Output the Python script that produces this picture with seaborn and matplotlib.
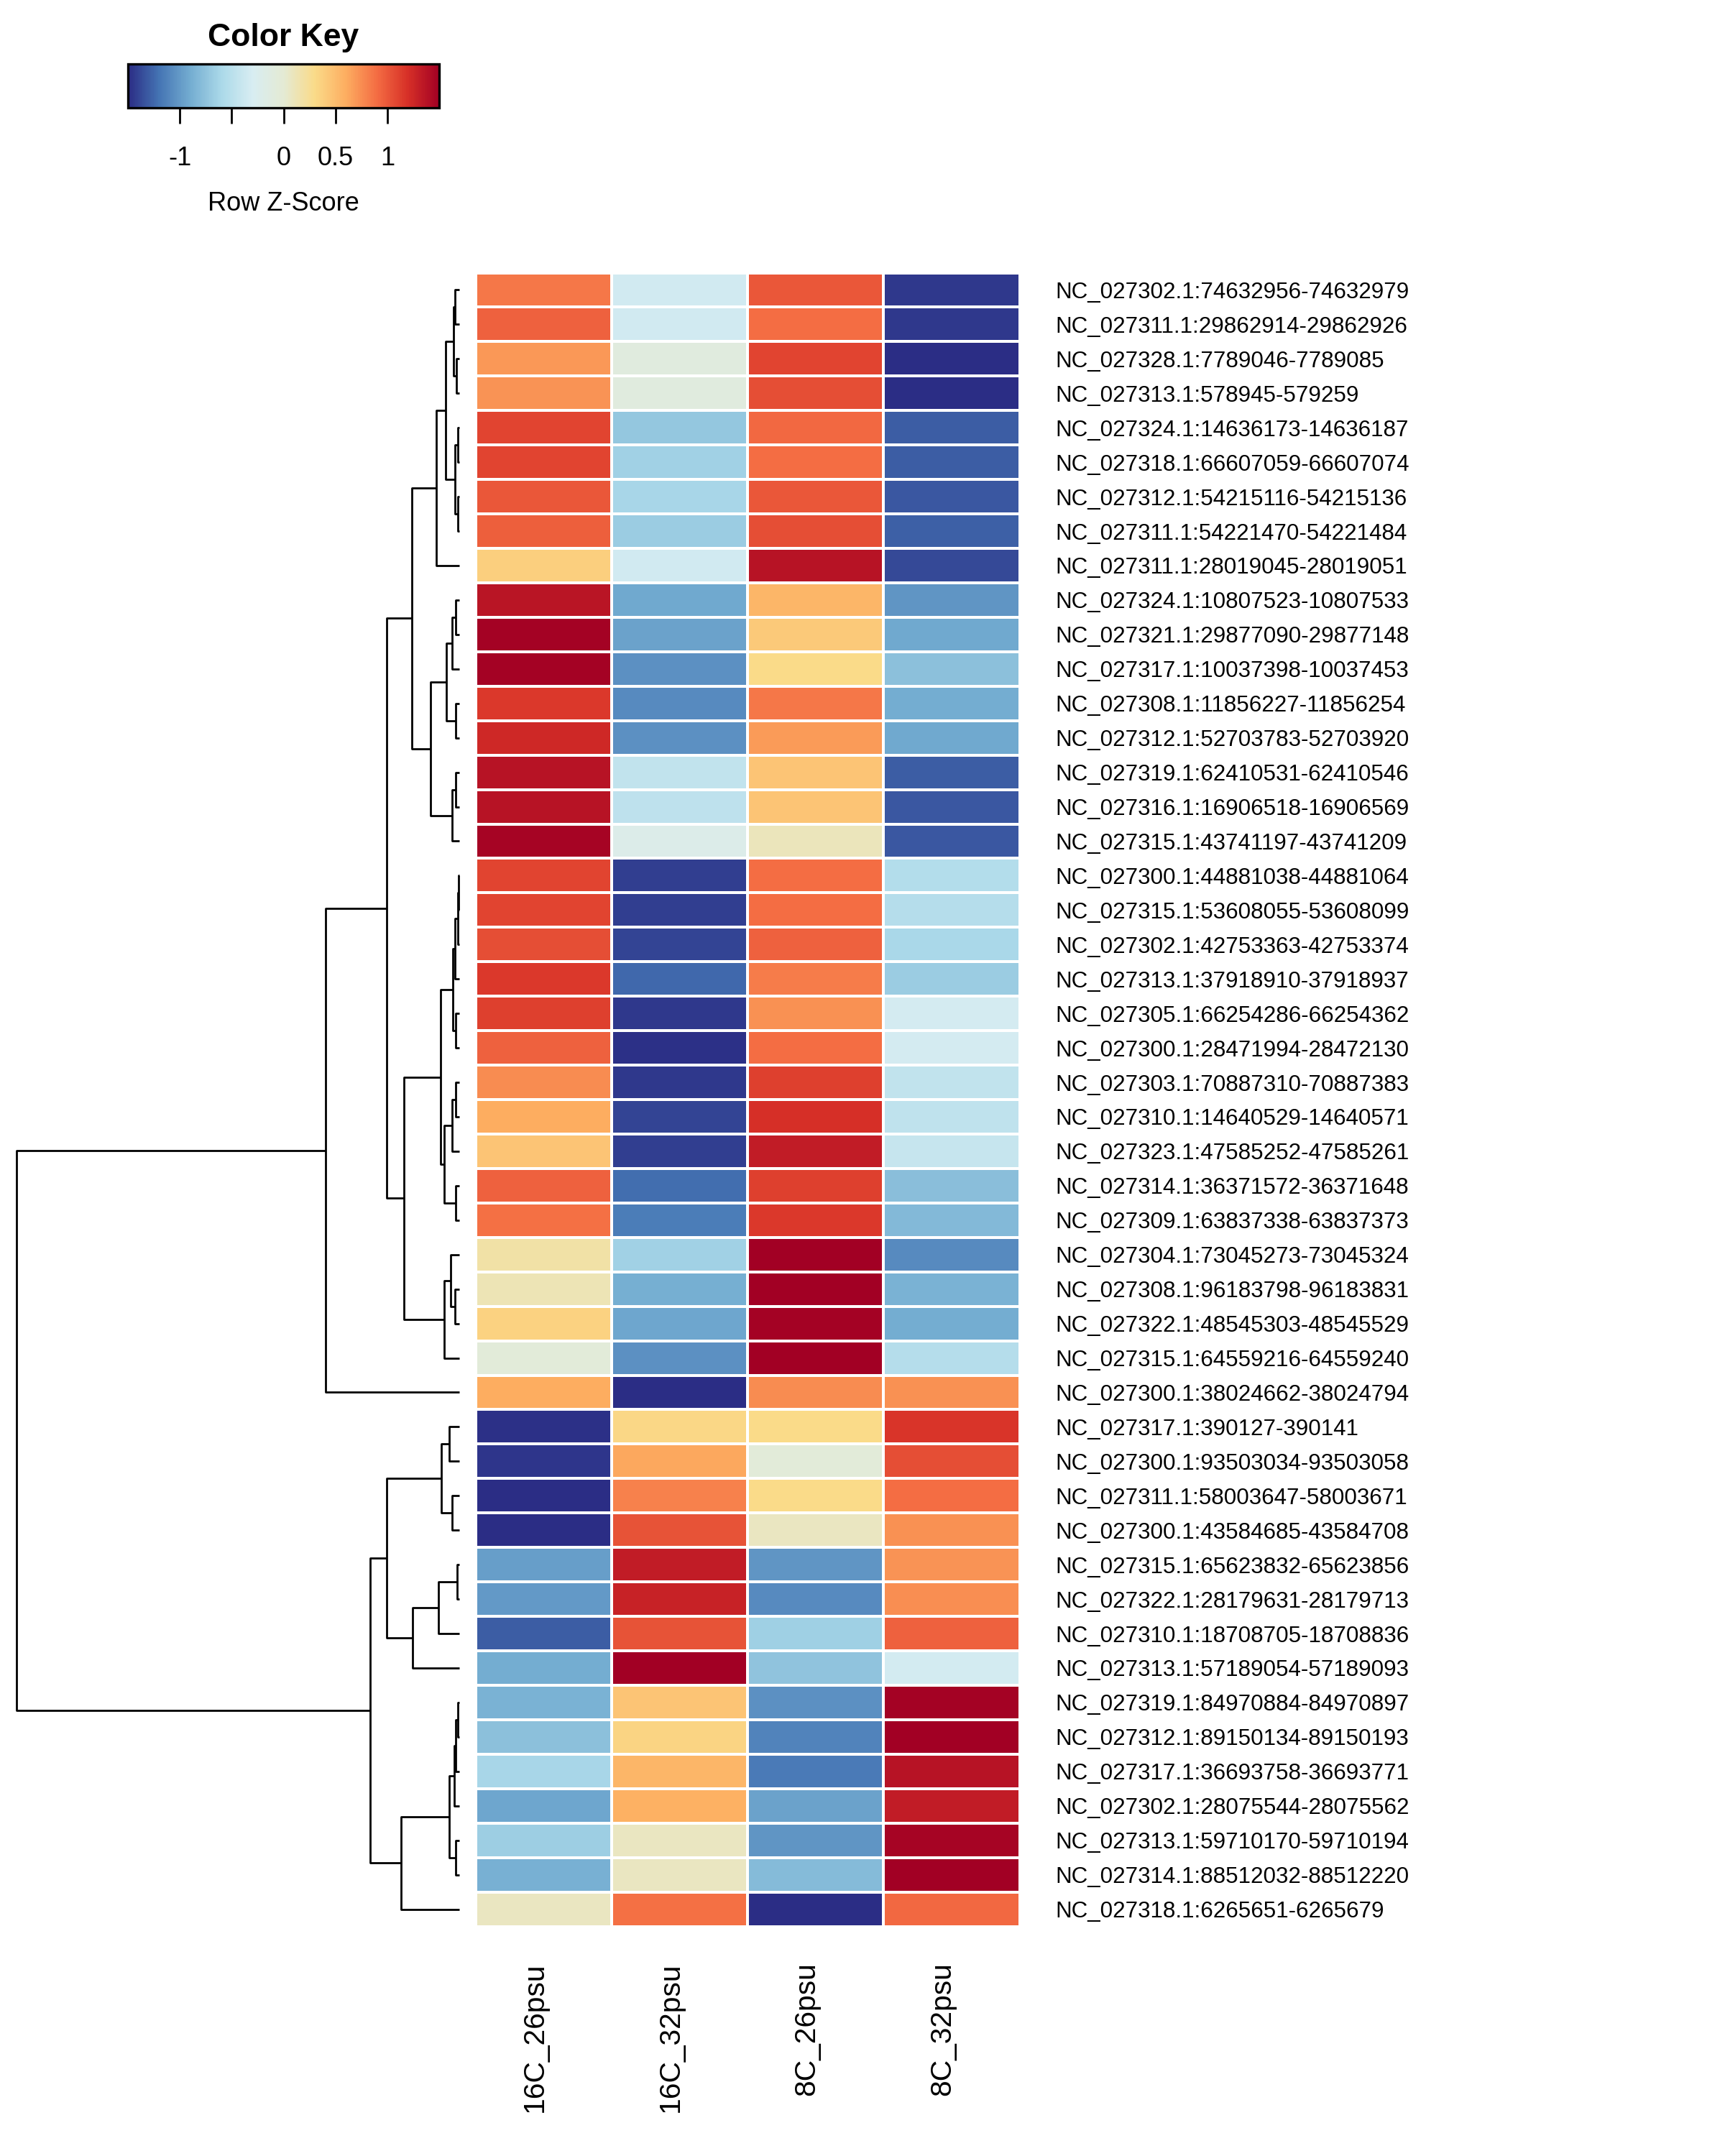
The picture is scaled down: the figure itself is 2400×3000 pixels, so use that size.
import seaborn as sns
import matplotlib.pyplot as plt
import matplotlib.transforms as mtransforms
from matplotlib.colors import LinearSegmentedColormap
import numpy as np
import pandas as pd

# 字体：与 Arial 等宽的 Liberation Sans，文字用纯黑
sns.set_theme(style="white")
plt.rcParams['font.family'] = ['Liberation Sans', 'DejaVu Sans']
plt.rcParams['text.color'] = 'black'
plt.rcParams['axes.labelcolor'] = 'black'
plt.rcParams['xtick.color'] = 'black'
plt.rcParams['ytick.color'] = 'black'

# ---- 数据（按图中行顺序，行 Z-score 从颜色估读）----
row_labels = [
    "NC_027302.1:74632956-74632979", "NC_027311.1:29862914-29862926",
    "NC_027328.1:7789046-7789085", "NC_027313.1:578945-579259",
    "NC_027324.1:14636173-14636187", "NC_027318.1:66607059-66607074",
    "NC_027312.1:54215116-54215136", "NC_027311.1:54221470-54221484",
    "NC_027311.1:28019045-28019051", "NC_027324.1:10807523-10807533",
    "NC_027321.1:29877090-29877148", "NC_027317.1:10037398-10037453",
    "NC_027308.1:11856227-11856254", "NC_027312.1:52703783-52703920",
    "NC_027319.1:62410531-62410546", "NC_027316.1:16906518-16906569",
    "NC_027315.1:43741197-43741209", "NC_027300.1:44881038-44881064",
    "NC_027315.1:53608055-53608099", "NC_027302.1:42753363-42753374",
    "NC_027313.1:37918910-37918937", "NC_027305.1:66254286-66254362",
    "NC_027300.1:28471994-28472130", "NC_027303.1:70887310-70887383",
    "NC_027310.1:14640529-14640571", "NC_027323.1:47585252-47585261",
    "NC_027314.1:36371572-36371648", "NC_027309.1:63837338-63837373",
    "NC_027304.1:73045273-73045324", "NC_027308.1:96183798-96183831",
    "NC_027322.1:48545303-48545529", "NC_027315.1:64559216-64559240",
    "NC_027300.1:38024662-38024794", "NC_027317.1:390127-390141",
    "NC_027300.1:93503034-93503058", "NC_027311.1:58003647-58003671",
    "NC_027300.1:43584685-43584708", "NC_027315.1:65623832-65623856",
    "NC_027322.1:28179631-28179713", "NC_027310.1:18708705-18708836",
    "NC_027313.1:57189054-57189093", "NC_027319.1:84970884-84970897",
    "NC_027312.1:89150134-89150193", "NC_027317.1:36693758-36693771",
    "NC_027302.1:28075544-28075562", "NC_027313.1:59710170-59710194",
    "NC_027314.1:88512032-88512220", "NC_027318.1:6265651-6265679",
]
col_labels = ["16C_26psu", "16C_32psu", "8C_26psu", "8C_32psu"]

z_16C_26psu = [0.85, 0.95, 0.70, 0.72, 1.10, 1.10, 1.00, 0.97, 0.38, 1.37,
               1.48, 1.48, 1.15, 1.25, 1.38, 1.38, 1.47, 1.10, 1.10, 1.05,
               1.15, 1.12, 0.95, 0.75, 0.60, 0.45, 0.95, 0.88, 0.18, 0.12,
               0.36, -0.05, 0.60, -1.48, -1.46, -1.50, -1.50, -0.98, -1.00, -1.30,
               -0.90, -0.86, -0.77, -0.62, -0.93, -0.67, -0.87, 0.08]
z_16C_32psu = [-0.35, -0.35, -0.10, -0.10, -0.72, -0.65, -0.62, -0.68, -0.35, -0.92,
               -0.95, -1.05, -1.08, -1.05, -0.45, -0.48, -0.20, -1.42, -1.42, -1.40,
               -1.25, -1.45, -1.48, -1.45, -1.40, -1.42, -1.22, -1.15, -0.65, -0.88,
               -0.93, -1.05, -1.50, 0.32, 0.63, 0.80, 1.02, 1.32, 1.28, 1.02,
               1.50, 0.45, 0.34, 0.55, 0.58, 0.08, 0.08, 0.88]
z_8C_26psu = [1.00, 0.90, 1.10, 1.05, 0.92, 0.90, 1.00, 1.05, 1.38, 0.55,
              0.42, 0.30, 0.85, 0.68, 0.45, 0.45, 0.10, 0.90, 0.90, 0.95,
              0.83, 0.73, 0.90, 1.12, 1.20, 1.32, 1.12, 1.15, 1.50, 1.50,
              1.48, 1.50, 0.75, 0.30, -0.05, 0.30, 0.08, -1.03, -1.08, -0.66,
              -0.75, -1.05, -1.12, -1.17, -0.95, -1.03, -0.80, -1.50]
z_8C_32psu = [-1.45, -1.45, -1.50, -1.50, -1.30, -1.30, -1.32, -1.28, -1.38, -1.02,
              -0.92, -0.77, -0.90, -0.92, -1.30, -1.32, -1.32, -0.55, -0.53, -0.60,
              -0.68, -0.32, -0.32, -0.45, -0.46, -0.42, -0.78, -0.82, -1.08, -0.86,
              -0.90, -0.53, 0.73, 1.18, 1.05, 0.90, 0.73, 0.72, 0.74, 0.95,
              -0.33, 1.48, 1.50, 1.38, 1.32, 1.47, 1.50, 0.92]

# 行聚类树：节点 -> (子节点1, 子节点2, 高度)；整数为行号(1 起)
tree = {
    "n12": (1, 2, 2.8), "n34": (3, 4, 1.8), "H": ("n12", "n34", 3.9),
    "n56": (5, 6, 0.8), "n78": (7, 8, 0.8), "I": ("n56", "n78", 3.2),
    "G": ("H", "I", 9.8), "E": ("G", 9, 16.5),
    "n1011": (10, 11, 2.7), "K": ("n1011", 12, 5.0), "n1314": (13, 14, 2.7),
    "J": ("K", "n1314", 9.0), "n1516": (15, 16, 2.7), "L": ("n1516", 17, 5.0),
    "F": ("J", "L", 20.5), "C": ("E", "F", 34.0),
    "n1819": (18, 19, 0.5), "p1": ("n1819", 20, 1.2), "p2": ("p1", 21, 2.8),
    "n2223": (22, 23, 2.5), "P": ("p2", "n2223", 4.7),
    "n2425": (24, 25, 2.5), "Q": ("n2425", 26, 5.0), "n2728": (27, 28, 2.5),
    "R": ("Q", "n2728", 10.6), "M": ("P", "R", 13.2),
    "n3031": (30, 31, 3.0), "n29": (29, "n3031", 6.4), "N": ("n29", 32, 11.0),
    "D": ("M", "N", 40.0), "B": ("C", "D", 52.0), "A": ("B", 33, 96.0),
    "n3435": (34, 35, 7.0), "n3637": (36, 37, 5.0), "U": ("n3435", "n3637", 13.0),
    "n3839": (38, 39, 1.5), "W": ("n3839", 40, 15.2), "V": ("W", 41, 33.5),
    "T": ("U", "V", 52.0),
    "a": (42, 43, 1.0), "b": ("a", 44, 2.5), "c": ("b", 45, 3.5),
    "d": (46, 47, 2.5), "Y": ("c", "d", 7.0), "X": ("Y", 48, 42.0),
    "S": ("T", "X", 64.3), "root": ("A", "S", 318.6),
}

df = pd.DataFrame({col_labels[0]: z_16C_26psu, col_labels[1]: z_16C_32psu,
                   col_labels[2]: z_8C_26psu, col_labels[3]: z_8C_32psu},
                  index=row_labels)

# 类似 RdYlBu（反向），中间偏灰，两端更深
cmap = LinearSegmentedColormap.from_list("rdylbu_key", [
    "#2b2d85", "#4575b4", "#74add1", "#abd9e9", "#d8edf2", "#e4ead4",
    "#fadb89", "#fdae61", "#f46d43", "#d73027", "#a20024"])

# ---- 画布 ----
fig = plt.figure(figsize=(12, 15), dpi=200)
ax_hm = fig.add_axes([0.2758, 0.1065, 0.3153, 0.767])
ax_dd = fig.add_axes([0.0097, 0.1065, 0.2565, 0.767])
ax_key = fig.add_axes([0.0742, 0.95, 0.1804, 0.0203])

sns.heatmap(df, ax=ax_hm, cmap=cmap, vmin=-1.5, vmax=1.5,
            linewidths=0.8, linecolor="white", cbar_ax=ax_key,
            cbar_kws={"orientation": "horizontal"})

ax_hm.yaxis.tick_right()
ax_hm.set_yticks(np.arange(len(row_labels)) + 0.5)
ax_hm.set_yticklabels(row_labels, rotation=0, fontsize=11.3)
ax_hm.set_xticks(np.arange(len(col_labels)) + 0.5)
ax_hm.set_xticklabels(col_labels, rotation=90, fontsize=14.7)
ax_hm.tick_params(axis="y", length=0, pad=18)
ax_hm.tick_params(axis="x", length=0, pad=18)
ax_hm.set_xlabel("")
ax_hm.set_ylabel("")
shift = mtransforms.ScaledTranslation(-4.5 / 72, 0, fig.dpi_scale_trans)
for lab in ax_hm.get_xticklabels():
    lab.set_transform(lab.get_transform() + shift)

# ---- 行聚类树 ----
def draw(node):
    if isinstance(node, int):
        return node - 0.5, 0.0
    a, b, h = tree[node]
    ya, ha = draw(a)
    yb, hb = draw(b)
    ax_dd.plot([ha, h, h, hb], [ya, ya, yb, yb], color="black", lw=1.0,
               clip_on=False, solid_capstyle="butt")
    return (ya + yb) / 2, h

draw("root")
ax_dd.set_xlim(tree["root"][2], 0)
ax_dd.set_ylim(len(row_labels), 0)
ax_dd.axis("off")

# ---- Color Key ----
cbar = ax_hm.collections[0].colorbar
cbar.set_ticks([-1, -0.5, 0, 0.5, 1])
cbar.set_ticklabels(["-1", "", "0", "0.5", "1"])
cbar.outline.set_linewidth(1.2)
cbar.outline.set_edgecolor("black")
ax_key.tick_params(axis="x", length=8, width=1.0, pad=11, labelsize=13,
                   colors="black", bottom=True)
ax_key.set_title("Color Key", fontsize=16, fontweight="bold", pad=9)
ax_key.set_xlabel("Row Z-Score", fontsize=13, labelpad=10)

fig.savefig("out.png", dpi=200, facecolor="white")
